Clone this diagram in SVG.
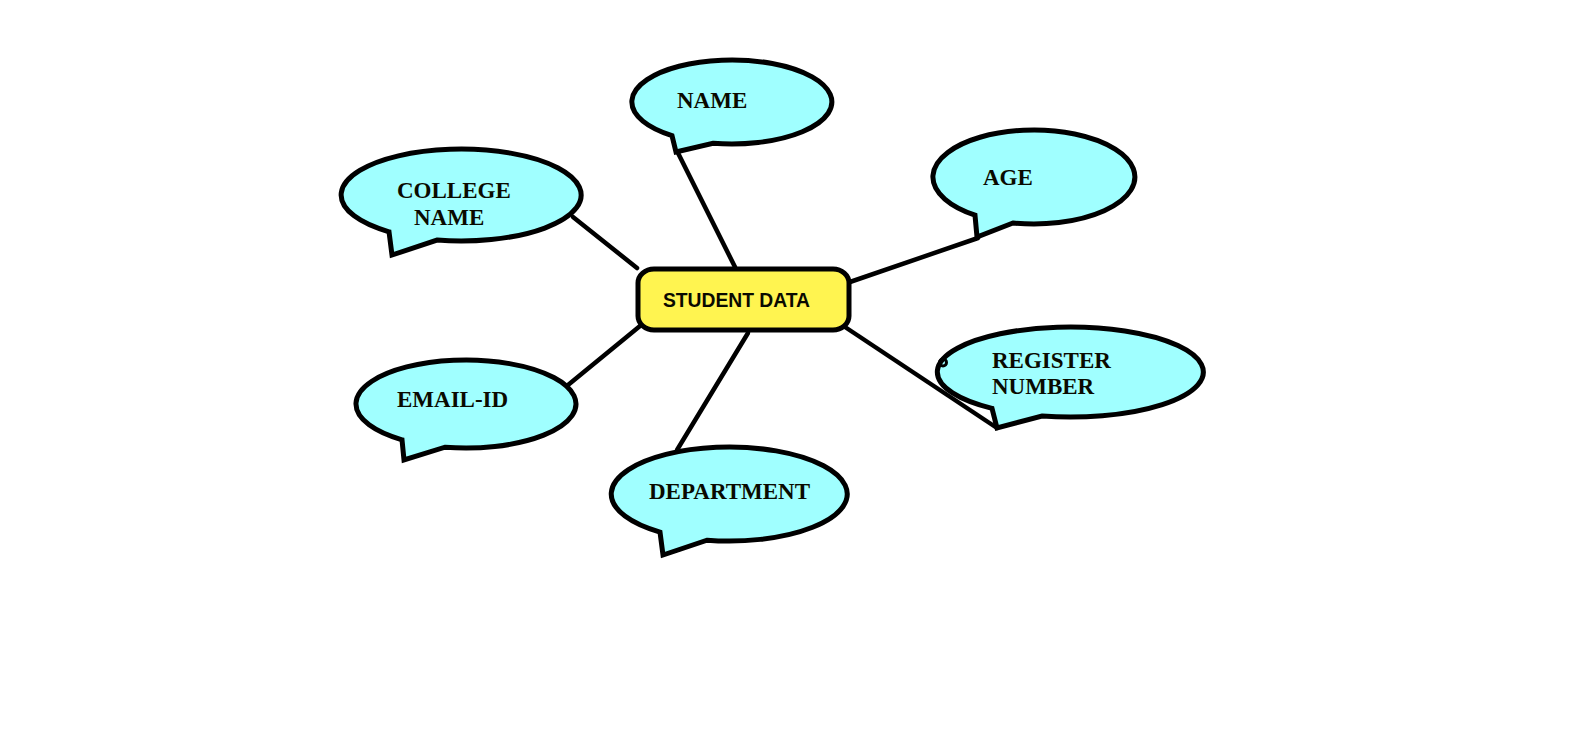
<svg xmlns="http://www.w3.org/2000/svg" width="1588" height="738" viewBox="0 0 1588 738">
<style>
.bub{fill:#A0FFFF;stroke:#000;stroke-width:5;stroke-linejoin:miter}
.lbl{font-family:"Liberation Serif","Times New Roman",serif;font-weight:bold;font-size:23px;fill:#0a0a00}
.con{stroke:#000;stroke-width:4.5;fill:none;stroke-linecap:round}
</style>
<rect width="1588" height="738" fill="#fff"/>
<g id="connectors">
<line class="con" x1="573" y1="217" x2="637" y2="268"/>
<line class="con" x1="678" y1="153" x2="735" y2="267"/>
<line class="con" x1="847" y1="283" x2="978" y2="238"/>
<line class="con" x1="845" y1="327" x2="997" y2="428"/>
<line class="con" x1="748" y1="333" x2="677" y2="450"/>
<line class="con" x1="568" y1="385" x2="640" y2="326"/>
</g>
<g id="student-data">
<rect x="638" y="269" width="211" height="61" rx="16" ry="14" fill="#FFF450" stroke="#000" stroke-width="5"/>
<text x="663" y="307" font-family="Liberation Sans, Arial, sans-serif" font-weight="bold" font-size="20" textLength="147" lengthAdjust="spacingAndGlyphs" fill="#0a0a00">STUDENT DATA</text>
</g>
<g id="name">
<path class="bub" d="M672,135.6 L676,152 L713,143.2 A100,42 0 1 0 672,135.6 Z"/>
<text class="lbl" x="677" y="108">NAME</text>
</g>
<g id="college-name">
<path class="bub" d="M389,231.8 L392,255 L437,240.1 A120,46 0 1 0 389,231.8 Z"/>
<text class="lbl" x="397" y="198">COLLEGE</text>
<text class="lbl" x="414" y="225">NAME</text>
</g>
<g id="email-id">
<path class="bub" d="M402,439.8 L404,460 L445,447.2 A110,44 0 1 0 402,439.8 Z"/>
<text class="lbl" x="397" y="407">EMAIL-ID</text>
</g>
<g id="department">
<path class="bub" d="M660,532.1 L663,555 L707,540.2 A118,47 0 1 0 660,532.1 Z"/>
<text class="lbl" x="649" y="499">DEPARTMENT</text>
</g>
<g id="age">
<path class="bub" d="M975,215.2 L977,237 L1013,223 A101,47 0 1 0 975,215.2 Z"/>
<text class="lbl" x="983" y="185">AGE</text>
</g>
<g id="register-number">
<path class="bub" d="M992,408.4 L997,428 L1042,416 A133,45 0 1 0 992,408.4 Z"/>
<circle cx="943" cy="362.5" r="3.5" fill="none" stroke="#000" stroke-width="3"/>
<text class="lbl" x="992" y="368">REGISTER</text>
<text class="lbl" x="992" y="394">NUMBER</text>
</g>
</svg>
